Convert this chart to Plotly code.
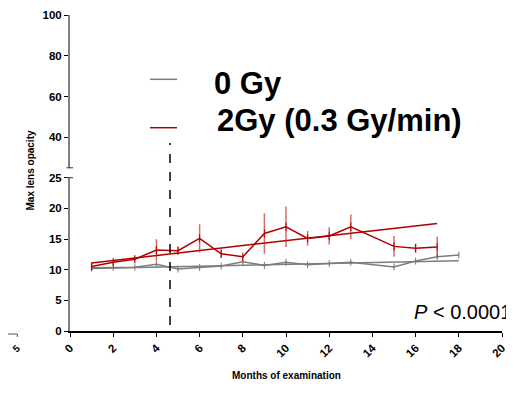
import plotly.graph_objects as go

# ---- data ----
months_ctrl = [1, 2, 3, 4, 5, 6, 7, 8, 9, 10, 11, 12, 13, 15, 16, 17, 18]
ctrl_mean = [10.3, 10.35, 10.4, 10.9, 10.1, 10.35, 10.6, 11.3, 10.7, 11.2, 10.8, 11.0, 11.2, 10.45, 11.4, 12.1, 12.4]
ctrl_err = [0.2, 0.2, 0.2, 0.3, 0.2, 0.2, 0.2, 0.3, 0.2, 0.2, 0.2, 0.2, 0.2, 0.2, 0.3, 0.3, 0.2]

months_irr = [1, 2, 3, 4, 5, 6, 7, 8, 9, 10, 11, 12, 13, 15, 16, 17]
irr_mean = [10.5, 11.2, 11.7, 13.2, 13.1, 15.1, 12.6, 12.1, 15.9, 17.0, 15.1, 15.5, 17.0, 13.8, 13.5, 13.7]
irr_err = [0.6, 0.4, 0.4, 1.75, 0.6, 2.3, 0.7, 0.3, 3.3, 3.3, 1.2, 1.4, 2.0, 1.7, 0.75, 1.65]

fit_ctrl_x = [1, 18]
fit_ctrl_y = [10.2, 11.45]
fit_irr_x = [1, 17]
fit_irr_y = [11.1, 17.55]

irradiation_month = 4.63
p_text = "<i>P</i> < 0.0001"
legend_names = ["0 Gy", "2Gy (0.3 Gy/min)"]

GRAY = "#7d7d7d"
RED = "#b00000"
FONT = "Liberation Sans, Arial, sans-serif"

# the page body has an 8px margin, so the figure is offset by 8px
OFF = 8
W, H = 514 - OFF, 407 - OFF
ML, MR, MT, MB = 70 - OFF, 12, 15 - OFF, 76
PW, PH = W - ML - MR, H - MT - MB


def px(x):
    # x in window pixels -> paper coordinate
    return (x - OFF - ML) / PW


def py(y):
    # y in window pixels -> paper coordinate
    return (H - MB - (y - OFF)) / PH


fig = go.Figure()

fig.add_trace(go.Scatter(x=fit_ctrl_x, y=fit_ctrl_y, mode="lines",
                         line=dict(color=GRAY, width=1.5), showlegend=False))
fig.add_trace(go.Scatter(x=months_ctrl, y=ctrl_mean, mode="lines+markers", name=legend_names[0],
                         line=dict(color=GRAY, width=1.5),
                         marker=dict(symbol="line-ns", size=5, line=dict(color=GRAY, width=1)),
                         error_y=dict(type="data", array=ctrl_err, color=GRAY, thickness=1, width=0),
                         showlegend=False))
fig.add_trace(go.Scatter(x=fit_irr_x, y=fit_irr_y, mode="lines",
                         line=dict(color=RED, width=1.5), showlegend=False))
fig.add_trace(go.Scatter(x=months_irr, y=irr_mean, mode="lines+markers", name=legend_names[1],
                         line=dict(color=RED, width=1.5),
                         marker=dict(symbol="line-ns", size=6, line=dict(color=RED, width=1)),
                         error_y=dict(type="data", array=irr_err, color="rgba(190,30,30,0.65)",
                                      thickness=1.5, width=0),
                         showlegend=False))
# empty trace to host the upper axis
fig.add_trace(go.Scatter(x=[None], y=[None], yaxis="y2", showlegend=False, hoverinfo="skip"))

lower_top = py(177.7)
upper_bottom = py(167.8)

tickfont = dict(family=FONT, size=11.5, color="black", weight="bold")

fig.update_layout(
    width=W, height=H,
    margin=dict(l=ML, r=MR, t=MT, b=MB, autoexpand=False),
    paper_bgcolor="white", plot_bgcolor="white",
    showlegend=False,
    font=dict(family=FONT),
    xaxis=dict(range=[0, 20], tickvals=list(range(0, 21, 2)), tickangle=-45,
               tickfont=tickfont, showgrid=False, zeroline=False, automargin=False,
               showline=True, linecolor="black", linewidth=1.5,
               ticks="outside", ticklen=4, tickcolor="black", anchor="y"),
    yaxis=dict(domain=[0, lower_top], range=[0, 25], tickvals=[0, 5, 10, 15, 20, 25],
               tickfont=tickfont, showgrid=False, zeroline=False, automargin=False,
               showline=True, linecolor="#808080", linewidth=2,
               ticks="outside", ticklen=4, tickcolor="black", anchor="x"),
    yaxis2=dict(domain=[upper_bottom, 1], range=[25, 100], tickvals=[40, 60, 80, 100],
                tickfont=tickfont, showgrid=False, zeroline=False, automargin=False,
                showline=True, linecolor="#808080", linewidth=2,
                ticks="outside", ticklen=4, tickcolor="black", anchor="x"),
)

shapes = []
# irradiation dashed line
shapes.append(dict(type="line", xref="x", yref="paper", x0=irradiation_month, x1=irradiation_month,
                   y0=py(325), y1=py(143), line=dict(color="black", width=1.5, dash="dash")))
# axis break caps
for yy in (167.8, 177.7):
    shapes.append(dict(type="line", xref="paper", yref="paper", x0=px(66.5), x1=px(73),
                       y0=py(yy), y1=py(yy), line=dict(color="#333", width=1)))
# legend lines
shapes.append(dict(type="line", xref="paper", yref="paper", x0=px(150), x1=px(177),
                   y0=py(79.3), y1=py(79.3), line=dict(color=GRAY, width=1.5)))
shapes.append(dict(type="line", xref="paper", yref="paper", x0=px(150), x1=px(177),
                   y0=py(127.7), y1=py(127.7), line=dict(color=RED, width=1.5)))
# fragment of neighbouring panel at left edge
shapes.append(dict(type="line", xref="paper", yref="paper", x0=px(8), x1=px(17.3),
                   y0=py(334), y1=py(334), line=dict(color="#555", width=1)))
shapes.append(dict(type="line", xref="paper", yref="paper", x0=px(17.3), x1=px(17.3),
                   y0=py(334), y1=py(337), line=dict(color="#555", width=1)))
fig.update_layout(shapes=shapes)

annotations = [
    dict(text="<b>" + legend_names[0] + "</b>", xref="paper", yref="paper", x=px(212), y=py(83.5),
         xanchor="left", yanchor="middle", showarrow=False, font=dict(size=31, color="black")),
    dict(text="<b>" + legend_names[1] + "</b>", xref="paper", yref="paper", x=px(215), y=py(120),
         xanchor="left", yanchor="middle", showarrow=False, font=dict(size=31, color="black")),
    dict(text=p_text, xref="paper", yref="paper", x=px(513), y=py(312),
         xanchor="right", yanchor="middle", showarrow=False, font=dict(size=20, color="black")),
    dict(text="<b>Max lens opacity</b>", xref="paper", yref="paper", x=px(30), y=py(170.5),
         xanchor="center", yanchor="middle", textangle=-90, showarrow=False,
         font=dict(size=10, color="black")),
    dict(text="<b>Months of examination</b>", xref="paper", yref="paper", x=px(286), y=py(375),
         xanchor="center", yanchor="middle", showarrow=False, font=dict(size=10, color="black")),
    dict(text="<b>5</b>", xref="paper", yref="paper", x=px(16), y=py(348),
         xanchor="center", yanchor="middle", textangle=-45, showarrow=False,
         font=dict(size=10, color="black")),
]
fig.update_layout(annotations=annotations)

fig.write_html("out.html")
